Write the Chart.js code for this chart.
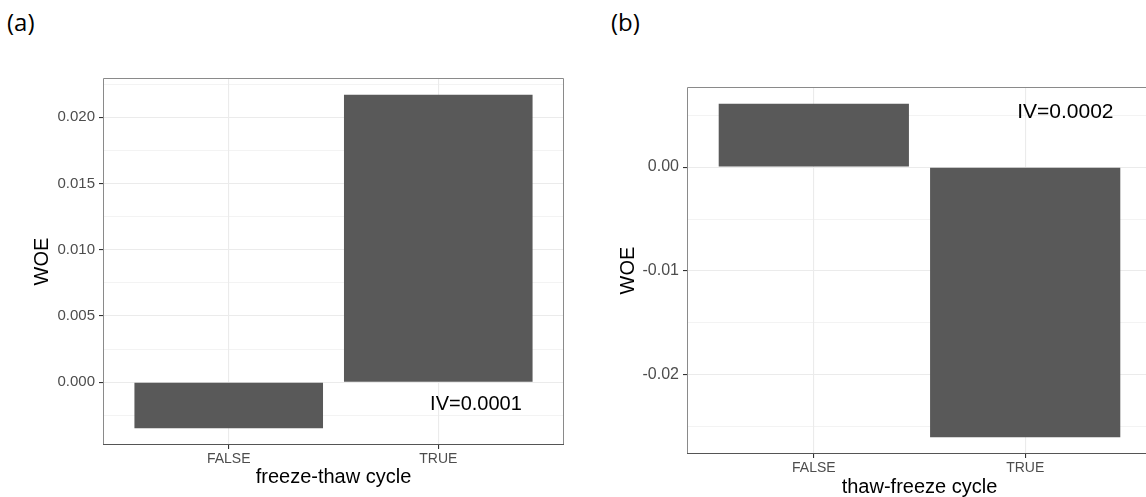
<!DOCTYPE html>
<html>
<head>
<meta charset="utf-8">
<script src="https://cdn.jsdelivr.net/npm/chart.js@4"></script>
<style>
  html, body { margin: 0; padding: 0; background: #fff; overflow: hidden; }
  body { width: 1146px; height: 497px; position: relative; }
  .wrap { position: absolute; top: 0; height: 497px; }
  .tag { position: absolute; top: 5px; font: 24px "Open Sans", "Noto Sans", sans-serif; color: #000; }
</style>
</head>
<body>
<div class="tag" style="left:7px">(a)</div>
<div class="tag" style="left:611px">(b)</div>
<div class="wrap" style="left:0;width:575px"><canvas id="chartA"></canvas></div>
<div class="wrap" style="left:580px;width:580px"><canvas id="chartB"></canvas></div>
<script>
// categories
var categories = ["FALSE", "TRUE"];

// (a) freeze-thaw cycle
var woeA = [-0.00347, 0.0217];
var ticksA = [0, 0.005, 0.010, 0.015, 0.020];
var tickLabelsA = ["0.000", "0.005", "0.010", "0.015", "0.020"];
var ivA = "IV=0.0001";
var ivPosA = [2.18, -0.0017];

// (b) thaw-freeze cycle
var woeB = [0.0061, -0.0260];
var ticksB = [-0.02, -0.01, 0.00];
var tickLabelsB = ["-0.02", "-0.01", "0.00"];
var ivB = "IV=0.0002";
var ivPosB = [2.19, 0.0053];

var font = '"Liberation Sans", Arial, sans-serif';

// frame round the panel
var borderPlugin = {
    id: 'panelBorder',
    afterDraw: function (chart) {
        var a = chart.chartArea, c = chart.ctx;
        c.save();
        c.lineWidth = 1;
        c.strokeStyle = '#8a8a8a';
        c.beginPath();
        c.moveTo(a.left + 0.5, a.bottom);
        c.lineTo(a.left + 0.5, a.top + 0.5);
        c.lineTo(a.right - 0.5, a.top + 0.5);
        c.lineTo(a.right - 0.5, a.bottom);
        c.stroke();
        c.strokeStyle = '#555';
        c.beginPath();
        c.moveTo(a.left, a.bottom - 0.5);
        c.lineTo(a.right, a.bottom - 0.5);
        c.stroke();
        c.restore();
    }
};

// IV text
var ivPlugin = {
    id: 'ivText',
    afterDatasetsDraw: function (chart, args, opts) {
        var c = chart.ctx;
        c.save();
        c.font = opts.size + 'px ' + font;
        c.fillStyle = '#000';
        c.textAlign = 'center';
        c.textBaseline = 'middle';
        c.fillText(opts.text, chart.scales.x.getPixelForValue(opts.pos[0]), chart.scales.y.getPixelForValue(opts.pos[1]));
        c.restore();
    }
};

function makeChart(id, vals, ticks, tickLabels, xTitle, iv, ivPos, cfg) {
    var lo = Math.min(0, Math.min.apply(null, vals));
    var hi = Math.max(0, Math.max.apply(null, vals));
    var pad = (hi - lo) * 0.05;
    var step = ticks[1] - ticks[0];
    var allTicks = [];
    for (var v = ticks[0] - step * 3; v <= hi + pad + 1e-9; v += step / 2) {
        if (v >= lo - pad - 1e-9) allTicks.push(Math.round(v * 1e6) / 1e6);
    }
    function isMajor(v) {
        return ticks.some(function (t) { return Math.abs(t - v) < 1e-7; });
    }
    function labelFor(v) {
        for (var i = 0; i < ticks.length; i++) if (Math.abs(ticks[i] - v) < 1e-7) return tickLabels[i];
        return '';
    }
    return new Chart(document.getElementById(id), {
        type: 'bar',
        data: {
            datasets: [{
                data: categories.map(function (c, i) { return { x: i + 1, y: vals[i] }; }),
                backgroundColor: '#595959',
                borderWidth: 0,
                categoryPercentage: 1,
                barPercentage: 0.9
            }]
        },
        plugins: [borderPlugin, ivPlugin],
        options: {
            responsive: true,
            maintainAspectRatio: false,
            animation: false,
            layout: { padding: { top: cfg.top, right: cfg.right, left: 0, bottom: 0 } },
            plugins: {
                legend: { display: false },
                tooltip: { enabled: false },
                ivText: { text: iv, pos: ivPos, size: cfg.ivSize }
            },
            scales: {
                x: {
                    type: 'linear',
                    min: 0.4,
                    max: 2.6,
                    offset: false,
                    afterBuildTicks: function (s) { s.ticks = categories.map(function (c, i) { return { value: i + 1 }; }); },
                    afterFit: function (s) { s.height = cfg.xHeight; },
                    grid: { offset: false, color: '#ebebeb', lineWidth: 1.1, tickColor: '#333', tickLength: 4 },
                    border: { display: false },
                    ticks: {
                        padding: 2,
                        color: '#4d4d4d',
                        font: { family: font, size: 14 },
                        maxRotation: 0,
                        callback: function (v) { return categories[Math.round(v) - 1]; }
                    },
                    title: {
                        display: true, text: xTitle, color: '#000',
                        font: { family: font, size: 20, lineHeight: 1 },
                        padding: { top: 0, bottom: cfg.xTitlePad }
                    }
                },
                y: {
                    type: 'linear',
                    min: lo - pad,
                    max: hi + pad,
                    afterBuildTicks: function (s) { s.ticks = allTicks.map(function (v) { return { value: v }; }); },
                    afterFit: function (s) { s.width = cfg.yWidth; },
                    grid: {
                        color: '#ebebeb',
                        lineWidth: function (ctx) { return ctx.tick && isMajor(ctx.tick.value) ? 1.1 : 0.6; },
                        tickColor: function (ctx) { return ctx.tick && isMajor(ctx.tick.value) ? '#333' : 'rgba(0,0,0,0)'; },
                        tickLength: 4
                    },
                    border: { display: false },
                    ticks: {
                        padding: 4,
                        color: '#4d4d4d',
                        font: { family: font, size: cfg.yTickSize },
                        autoSkip: false,
                        callback: function (v) { return labelFor(v); }
                    },
                    title: {
                        display: true, text: 'WOE', color: '#000',
                        font: { family: font, size: 20, lineHeight: 1 },
                        padding: { top: cfg.yTitlePad, bottom: 0 }
                    }
                }
            }
        }
    });
}

makeChart('chartA', woeA, ticksA, tickLabelsA, 'freeze-thaw cycle', ivA, ivPosA,
    { top: 78, right: 11, xHeight: 52, yWidth: 103, xTitlePad: 10, yTitlePad: 32, yTickSize: 15, ivSize: 20 });
makeChart('chartB', woeB, ticksB, tickLabelsB, 'thaw-freeze cycle', ivB, ivPosB,
    { top: 87, right: 8, xHeight: 43, yWidth: 107, xTitlePad: 0, yTitlePad: 38, yTickSize: 16, ivSize: 21 });
</script>
</body>
</html>
